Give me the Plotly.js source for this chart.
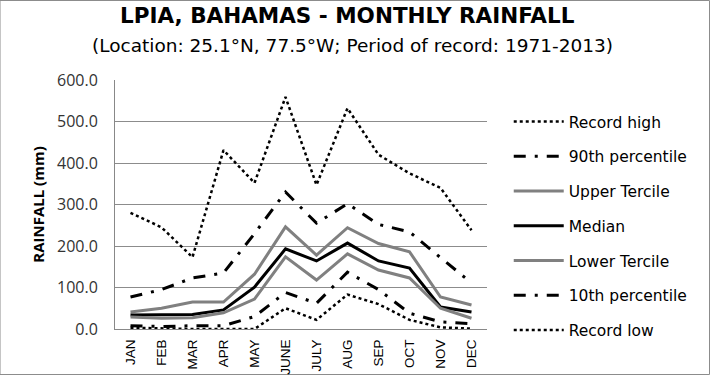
<!DOCTYPE html>
<html>
<head>
<meta charset="utf-8">
<script src="https://cdn.plot.ly/plotly-3.0.1.min.js"></script>
<style>
html,body{margin:0;padding:0;background:#fff;}
#chart{width:710px;height:375px;}
</style>
</head>
<body>
<div id="chart"></div>
<script>
const months = ["JAN","FEB","MAR","APR","MAY","JUNE","JULY","AUG","SEP","OCT","NOV","DEC"];
const recordHigh = [280, 245, 173, 431, 352, 559, 347, 532, 420, 375, 340, 238];
const pct90 = [77, 95, 123, 135, 230, 330, 255, 302, 252, 234, 172, 111];
const upperTercile = [41, 50, 65, 65, 132, 246, 178, 244, 206, 186, 77, 58];
const median = [34, 35, 35, 46, 101, 193, 164, 207, 164, 147, 53, 41];
const lowerTercile = [29, 26, 27, 39, 72, 174, 118, 181, 142, 123, 50, 26];
const pct10 = [8, 6, 8, 8, 30, 88, 62, 137, 95, 38, 17, 13];
const recordLow = [3, 1, 0, 0, 0, 50, 22, 83, 60, 22, 4, 1];

const seriesNames = ["Record high","90th percentile","Upper Tercile","Median","Lower Tercile","10th percentile","Record low"];
const titleText = "LPIA, BAHAMAS - MONTHLY RAINFALL";
const subtitleText = "(Location: 25.1°N, 77.5°W; Period of record: 1971-2013)";

function tr(name, y, color, width, dash, g){
  return {x: months, y: y, name: name, type: 'scatter', mode: 'lines',
    line: {color: color, width: width, dash: dash}, legendgroup: g};
}
const data = [
  tr(seriesNames[0], recordHigh, '#000', 2.5, 'dot', 'a'),
  tr(seriesNames[1], pct90, '#000', 3, '12px,9px,3px,9px', 'b'),
  tr(seriesNames[2], upperTercile, '#808080', 3, 'solid', 'c'),
  tr(seriesNames[3], median, '#000', 3, 'solid', 'd'),
  tr(seriesNames[4], lowerTercile, '#808080', 3, 'solid', 'e'),
  tr(seriesNames[5], pct10, '#000', 3, '12px,9px,3px,9px', 'f'),
  tr(seriesNames[6], recordLow, '#000', 2.5, 'dot', 'g')
];

const ph = 249;
const FONT = '"Open Sans", Lato, Arial, sans-serif';
const WIDE = '"DejaVu Sans", "Open Sans", Arial, sans-serif';
const layout = {
  width: 710, height: 375,
  margin: {l: 115, r: 223, t: 80, b: 46},
  paper_bgcolor: '#fff', plot_bgcolor: '#fff',
  font: {family: FONT, color: '#000'},
  annotations: [
    {text: '<b>' + titleText + '</b>', xref: 'paper', yref: 'paper',
     x: (347 - 115) / 372, y: 1 + (80 - 16) / ph, xanchor: 'center', yanchor: 'middle',
     showarrow: false, font: {family: WIDE, size: 21.5, color: '#000'}},
    {text: subtitleText, xref: 'paper', yref: 'paper',
     x: (352 - 115) / 372, y: 1 + (80 - 45) / ph, xanchor: 'center', yanchor: 'middle',
     showarrow: false, font: {family: WIDE, size: 18.5, color: '#000'}}
  ],
  shapes: [
    {type: 'rect', xref: 'paper', yref: 'paper',
     x0: -115 / 372, x1: 1 + 222.5 / 372, y0: -45.5 / ph, y1: 1 + 79.5 / ph,
     line: {color: '#8c8c8c', width: 1}, fillcolor: 'rgba(0,0,0,0)', layer: 'below'}
  ],
  xaxis: {
    type: 'category', range: [-0.5, 11.5], tickangle: -90,
    tickfont: {family: 'Liberation Sans, Arial, sans-serif', size: 13.5},
    ticklabelstandoff: 4,
    showline: true, linecolor: '#888', linewidth: 1,
    showgrid: false, ticks: '', automargin: false
  },
  yaxis: {
    range: [0, 600], dtick: 100, tickformat: '.1f',
    tickfont: {family: FONT, size: 16, color: '#333'},
    ticklabelstandoff: 13,
    showline: true, linecolor: '#888', linewidth: 1,
    gridcolor: '#8c8c8c', gridwidth: 1,
    ticks: '', zeroline: false, automargin: false,
    title: {text: '<b>RAINFALL (mm)</b>', font: {family: FONT, size: 15}, standoff: 8}
  },
  showlegend: true,
  legend: {
    x: 1.045 + 5 / 372, xanchor: 'left', y: 1 - 25 / ph, yanchor: 'top',
    font: {family: WIDE, size: 15.5},
    tracegroupgap: 11.6, bgcolor: 'rgba(0,0,0,0)', itemwidth: 50
  }
};

Plotly.newPlot('chart', data, layout, {displayModeBar: false, staticPlot: true});
</script>
</body>
</html>
